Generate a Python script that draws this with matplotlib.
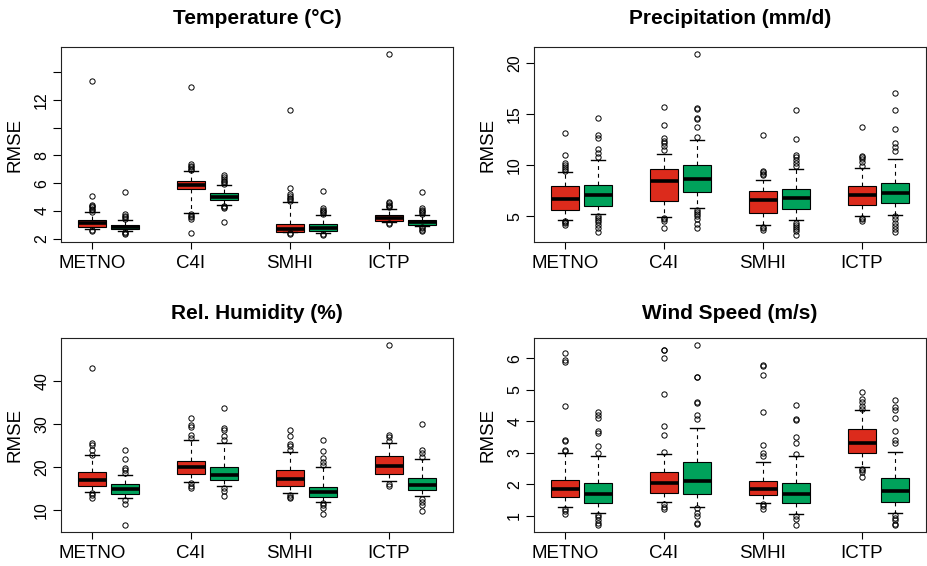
import numpy as np
import matplotlib
matplotlib.use("Agg")
import matplotlib.pyplot as plt

plt.rcParams['font.family'] = ['Liberation Sans', 'DejaVu Sans']

models = ["METNO", "C4I", "SMHI", "ICTP"]

# five-number summaries per model: [whisker low, q1, median, q3, whisker high]
# red = first run, green = second run; fliers listed separately

# --- Temperature ---
temp_red = [[2.70, 2.84, 3.15, 3.33, 3.88],
            [3.85, 5.58, 5.87, 6.13, 6.88],
            [2.45, 2.50, 2.72, 3.08, 4.65],
            [3.22, 3.30, 3.50, 3.70, 4.10]]
temp_red_fliers = [[2.62, 2.58, 3.95, 4.05, 4.15, 4.25, 4.35, 4.45, 5.05, 13.35],
                   [6.95, 7.05, 7.15, 7.25, 7.35, 12.95, 3.75, 3.65, 3.55, 3.42, 2.43],
                   [2.38, 2.32, 4.72, 4.82, 4.95, 5.10, 5.25, 5.65, 11.3],
                   [3.12, 3.05, 4.25, 4.35, 4.45, 4.55, 4.65, 15.3]]
temp_green = [[2.55, 2.68, 2.83, 2.97, 3.32],
              [4.43, 4.79, 5.03, 5.27, 5.87],
              [2.43, 2.55, 2.78, 3.02, 3.70],
              [2.92, 3.00, 3.18, 3.32, 3.70]]
temp_green_fliers = [[3.42, 3.55, 3.65, 3.75, 5.39, 2.45, 2.38, 2.32],
                     [5.95, 6.05, 6.15, 6.30, 6.45, 6.60, 4.35, 4.25, 4.20, 3.18],
                     [3.78, 3.88, 3.98, 4.08, 4.18, 5.43, 2.35, 2.27],
                     [3.78, 3.88, 3.98, 4.08, 4.18, 5.39, 2.85, 2.75, 2.65, 2.55]]

# --- Precipitation ---
precip_red = [[4.64, 5.65, 6.70, 7.93, 9.30],
              [4.97, 6.50, 8.50, 9.63, 11.13],
              [4.15, 5.30, 6.56, 7.45, 8.60],
              [5.00, 6.10, 7.10, 8.00, 9.73]]
precip_red_fliers = [[4.55, 4.45, 4.35, 4.20, 9.45, 9.6, 9.8, 10.0, 10.2, 11.05, 13.15],
                     [4.85, 4.70, 4.55, 3.86, 11.5, 11.9, 12.2, 12.4, 12.7, 13.9, 15.66],
                     [4.00, 3.85, 3.70, 9.0, 9.15, 9.3, 9.4, 13.0],
                     [4.85, 4.70, 4.55, 9.9, 10.3, 10.6, 10.8, 10.9, 13.7]]
precip_green = [[5.20, 6.04, 7.05, 8.03, 10.50],
                [5.80, 7.35, 8.65, 10.00, 12.50],
                [4.60, 5.72, 6.76, 7.67, 9.63],
                [5.16, 6.34, 7.25, 8.26, 10.60]]
precip_green_fliers = [[5.0, 4.8, 4.6, 4.45, 4.2, 3.9, 3.5, 10.8, 11.2, 11.6, 12.7, 13.0, 14.6],
                       [5.65, 5.45, 5.25, 5.0, 4.7, 4.3, 3.86, 12.8, 13.7, 14.5, 14.6, 15.5, 15.6, 20.85],
                       [4.35, 4.15, 4.0, 3.8, 3.6, 3.2, 9.9, 10.2, 10.5, 10.8, 11.0, 12.56, 15.43],
                       [5.0, 4.7, 4.4, 4.1, 3.8, 3.5, 11.4, 11.8, 12.2, 13.57, 15.4, 17.06]]

# --- Relative humidity ---
hum_red = [[14.3, 15.5, 16.9, 18.8, 22.7],
           [16.5, 18.35, 19.9, 21.5, 26.2],
           [13.9, 15.5, 17.2, 19.4, 23.6],
           [16.7, 18.4, 20.3, 22.6, 25.5]]
hum_red_fliers = [[13.9, 13.4, 12.7, 22.9, 24.0, 25.0, 25.6, 42.95],
                  [16.2, 15.6, 15.1, 26.7, 27.4, 29.3, 29.8, 31.5],
                  [13.6, 13.1, 12.8, 24.0, 24.8, 25.3, 27.1, 28.5],
                  [16.0, 15.6, 26.0, 27.0, 27.4, 48.3]]
hum_green = [[12.8, 13.8, 14.9, 16.1, 18.2],
             [15.7, 17.0, 18.2, 20.05, 25.5],
             [11.9, 13.0, 14.1, 15.3, 20.0],
             [13.3, 14.6, 15.9, 17.5, 21.8]]
hum_green_fliers = [[12.4, 11.3, 6.5, 18.6, 19.3, 19.8, 21.8, 24.0],
                    [15.1, 14.5, 13.3, 26.3, 27.3, 28.6, 29.0, 33.7],
                    [11.6, 11.2, 10.5, 9.2, 20.4, 21.2, 22.0, 23.7, 26.3],
                    [12.6, 11.9, 11.2, 9.7, 22.4, 23.2, 24.0, 30.0]]

# --- Wind speed ---
wind_red = [[1.27, 1.58, 1.84, 2.13, 3.00],
            [1.42, 1.72, 2.03, 2.40, 2.96],
            [1.40, 1.67, 1.85, 2.10, 2.70],
            [2.56, 2.99, 3.31, 3.75, 4.36]]
wind_red_fliers = [[1.2, 1.15, 1.05, 3.06, 3.1, 3.36, 3.4, 4.49, 5.9, 5.95, 6.17],
                   [1.37, 1.27, 1.2, 3.04, 3.57, 3.85, 4.87, 6.0, 6.26, 6.28],
                   [1.37, 1.3, 1.21, 2.9, 3.0, 3.25, 4.29, 5.47, 5.75, 5.8],
                   [2.5, 2.44, 2.4, 2.23, 4.4, 4.5, 4.6, 4.7, 4.94]]
wind_green = [[1.10, 1.39, 1.70, 2.04, 2.91],
              [1.27, 1.68, 2.11, 2.72, 3.80],
              [1.06, 1.39, 1.70, 2.03, 2.90],
              [1.10, 1.42, 1.77, 2.19, 3.01]]
wind_green_fliers = [[1.03, 0.95, 0.87, 0.77, 0.7, 2.99, 3.22, 3.64, 3.7, 4.1, 4.2, 4.3],
                     [1.24, 1.1, 1.0, 0.76, 0.74, 4.06, 4.2, 4.57, 4.63, 5.4, 5.42, 6.42],
                     [0.98, 0.9, 0.7, 2.97, 3.3, 3.5, 4.05, 4.08, 4.52],
                     [1.03, 0.94, 0.85, 0.75, 0.71, 3.3, 3.41, 3.7, 4.1, 4.37, 4.46, 4.68]]

titles = ["Temperature (°C)", "Precipitation (mm/d)", "Rel. Humidity (%)", "Wind Speed (m/s)"]
yticks = [[2, 4, 6, 8, 10, 12, 14], [5, 10, 15, 20], [10, 20, 30, 40], [1, 2, 3, 4, 5, 6]]
yticklabels = [["2", "4", "6", "8", "", "12", ""], ["5", "10", "15", "20"],
               ["10", "20", "30", "40"], ["1", "2", "3", "4", "5", "6"]]

RED = "#DC2B1C"
GREEN = "#00A25B"


def make_stats(summary, fliers):
    out = []
    for s, f in zip(summary, fliers):
        out.append(dict(whislo=s[0], q1=s[1], med=s[2], q3=s[3], whishi=s[4], fliers=f))
    return out


def draw_panel(ax, red, red_f, green, green_f, title, ticks, ticklabels, title_pad):
    red_pos = np.arange(4) * 3 + 1
    green_pos = red_pos + 1
    common = dict(widths=0.84, capwidths=0.42, patch_artist=True, manage_ticks=False,
                  whiskerprops=dict(color="black", lw=0.8, linestyle=(0, (3.5, 3.5))),
                  capprops=dict(color="black", lw=1.0),
                  medianprops=dict(color="black", lw=2.6, solid_capstyle="butt"),
                  flierprops=dict(marker="o", markersize=3.8, markerfacecolor="none",
                                  markeredgecolor="black", markeredgewidth=0.7))
    for summ, fl, pos, col in [(red, red_f, red_pos, RED), (green, green_f, green_pos, GREEN)]:
        ax.bxp(make_stats(summ, fl), positions=pos,
               boxprops=dict(facecolor=col, edgecolor="black", lw=0.8), **common)

    # R-style y range: data range extended by 4 %
    allv = np.concatenate([np.ravel(red), np.ravel(green)] +
                          [np.ravel(f) for f in red_f] + [np.ravel(f) for f in green_f])
    lo, hi = allv.min(), allv.max()
    ext = 0.04 * (hi - lo)
    ax.set_ylim(lo - ext, hi + ext)
    ax.set_xlim(0.06, 11.93)

    ax.set_xticks(red_pos)
    ax.set_xticklabels(models, fontsize=13.5)
    ax.set_yticks(ticks)
    ax.set_yticklabels(ticklabels, fontsize=11.5)
    ax.tick_params(axis="x", length=5, width=0.8, pad=4)
    ax.tick_params(axis="y", length=5.5, width=0.8, pad=3, labelrotation=90)
    for lab in ax.get_yticklabels():
        lab.set_verticalalignment("center")
    ax.set_ylabel("RMSE", fontsize=13.5, labelpad=8)
    ax.set_title(title, fontsize=15, fontweight="bold", pad=title_pad)
    for sp in ax.spines.values():
        sp.set_linewidth(0.8)
        sp.set_color("#222222")


fig = plt.figure(figsize=(9.27, 5.66), dpi=100)
w = 0.4225
ax1 = fig.add_axes([0.0658, 0.5724, w, 0.3445])
ax2 = fig.add_axes([0.5761, 0.5724, w, 0.3445])
ax3 = fig.add_axes([0.0658, 0.0595, w, 0.3433])
ax4 = fig.add_axes([0.5761, 0.0595, w, 0.3433])

draw_panel(ax1, temp_red, temp_red_fliers, temp_green, temp_green_fliers,
           titles[0], yticks[0], yticklabels[0], 16.5)
draw_panel(ax2, precip_red, precip_red_fliers, precip_green, precip_green_fliers,
           titles[1], yticks[1], yticklabels[1], 16.5)
draw_panel(ax3, hum_red, hum_red_fliers, hum_green, hum_green_fliers,
           titles[2], yticks[2], yticklabels[2], 13.5)
draw_panel(ax4, wind_red, wind_red_fliers, wind_green, wind_green_fliers,
           titles[3], yticks[3], yticklabels[3], 13.5)

fig.savefig("out.png", dpi=100)
